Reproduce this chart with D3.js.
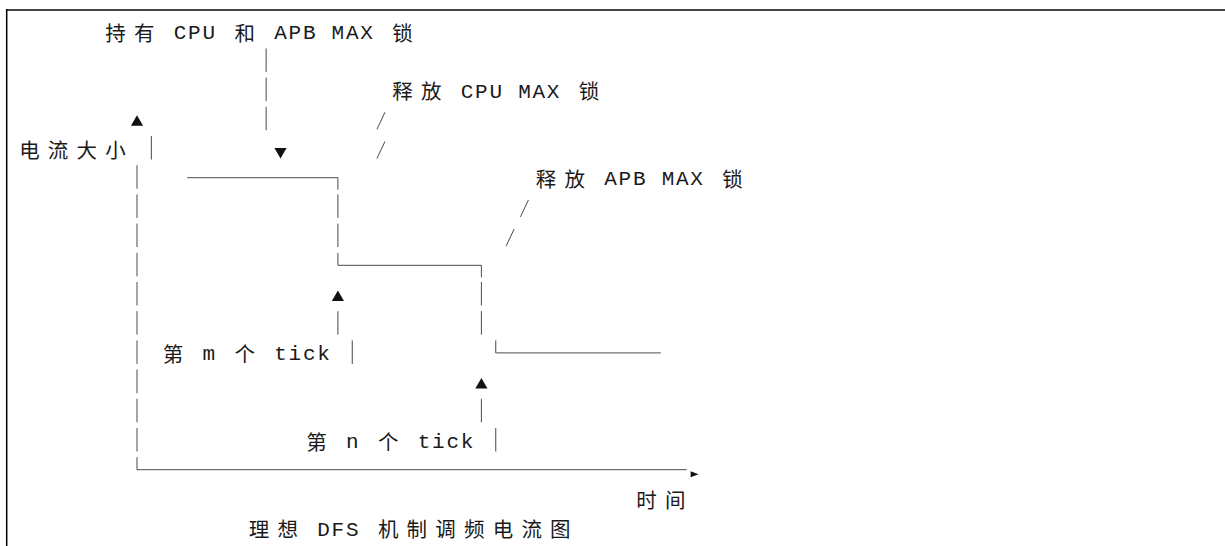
<!DOCTYPE html>
<html>
<head>
<meta charset="utf-8">
<script src="https://cdn.jsdelivr.net/npm/d3@7"></script>
<style>
  body { margin: 0; background: #fff; }
</style>
</head>
<body>
<svg id="dfs" width="1225" height="546"></svg>
<script>
// text cells of the diagram: start column and row on the character grid
const labels = [
  { text: "持有 CPU 和 APB MAX 锁", col: 6, row: 0 },
  { text: "释放 CPU MAX 锁", col: 26, row: 2 },
  { text: "电流大小", col: 0, row: 4 },
  { text: "释放 APB MAX 锁", col: 36, row: 5 },
  { text: "第 m 个 tick", col: 10, row: 11 },
  { text: "第 n 个 tick", col: 20, row: 14 },
  { text: "时间", col: 43, row: 16 },
  { text: "理想 DFS 机制调频电流图", col: 16, row: 17 }
];

// current level steps (row = level, from/to = time in columns)
const steps = [
  { row: 5, from: 11.5, to: 22 },
  { row: 8, from: 22, to: 32 },
  { row: 11, from: 33, to: 44.5 }
];
const timeAxis = { row: 15, from: 8, to: 46.3 };
const axisRows = [5, 6, 7, 8, 9, 10, 11, 12, 13, 14];

// single "|" cells [col, row]
const bars = [
  [17, 1], [17, 2], [17, 3], [9, 4],
  [22, 6], [22, 7], [22, 10],
  [32, 9], [32, 10], [32, 13],
  [23, 11], [33, 14]
];
// box corners: half cells, "down" = from center to bottom, "up" = top to center
const corners = [
  { col: 22, row: 5, dir: "down" },
  { col: 22, row: 8, dir: "up" },
  { col: 32, row: 8, dir: "down" },
  { col: 33, row: 11, dir: "up" },
  { col: 8, row: 15, dir: "up" }
];
const slashes = [[25, 3], [25, 4], [35, 6], [34, 7]];
const arrows = [
  { col: 8, row: 3, dir: "up" },
  { col: 18, row: 4, dir: "down" },
  { col: 22, row: 9, dir: "up" },
  { col: 32, row: 12, dir: "up" }
];

const svg = d3.select("#dfs");
const COL = 14.35, ROW = 29.2;
const x = d3.scaleLinear().domain([0, 1]).range([22.2, 22.2 + COL]);
const y = d3.scaleLinear().domain([0, 1]).range([31.7, 31.7 + ROW]);
const ink = "#4a4a4a";

// frame: top rule and left rule
svg.append("line").attr("x1", 6).attr("x2", 1225).attr("y1", 10).attr("y2", 10)
  .attr("stroke", "#444").attr("stroke-width", 2);
svg.append("line").attr("x1", 6.7).attr("x2", 6.7).attr("y1", 9).attr("y2", 546)
  .attr("stroke", "#000").attr("stroke-width", 1.5);

const lines = svg.append("g").attr("stroke", ink).attr("stroke-width", 1).attr("fill", "none");

const allBars = bars.concat(axisRows.map(r => [8, r]));
lines.selectAll("line.bar")
  .data(allBars)
  .join("line")
  .attr("class", "bar")
  .attr("x1", d => x(d[0])).attr("x2", d => x(d[0]))
  .attr("y1", d => y(d[1]) - 12.5)
  .attr("y2", d => y(d[1]) + 11);

lines.selectAll("line.corner")
  .data(corners)
  .join("line")
  .attr("class", "corner")
  .attr("x1", d => x(d.col)).attr("x2", d => x(d.col))
  .attr("y1", d => y(d.row))
  .attr("y2", d => d.dir === "down" ? y(d.row) + 12 : y(d.row) - 12.5);

lines.selectAll("line.step")
  .data(steps.concat([timeAxis]))
  .join("line")
  .attr("class", "step")
  .attr("x1", d => x(d.from)).attr("x2", d => x(d.to))
  .attr("y1", d => y(d.row)).attr("y2", d => y(d.row));

lines.selectAll("line.slash")
  .data(slashes)
  .join("line")
  .attr("class", "slash")
  .attr("x1", d => x(d[0]) - 4).attr("y1", d => y(d[1]) + 10)
  .attr("x2", d => x(d[0]) + 4).attr("y2", d => y(d[1]) - 7);

const tri = d3.symbol().type(d3.symbolTriangle).size(64);
svg.append("g").selectAll("path")
  .data(arrows)
  .join("path")
  .attr("d", tri)
  .attr("fill", "#111")
  .attr("transform", d => `translate(${x(d.col)},${y(d.row) + 3}) rotate(${d.dir === "down" ? 180 : 0})`);

// small arrow head at the end of the time axis
const ax = x(timeAxis.to), ay = y(timeAxis.row) + 4.5;
svg.append("path")
  .attr("d", `M${ax + 4},${ay - 3}L${ax + 12},${ay}L${ax + 4},${ay + 3}Z`)
  .attr("fill", "#111");

// lay out label characters on the grid, wide (CJK) glyphs take two columns
const isWide = ch => /[\u2e80-\u9fff]/.test(ch);
const glyphs = labels.flatMap(d => {
  let c = d.col;
  return Array.from(d.text).map(ch => {
    const wide = isWide(ch);
    const g = { ch, row: d.row, col: wide ? c + 0.5 : c, wide };
    c += wide ? 2 : 1;
    return g;
  }).filter(g => g.ch !== " ");
});

svg.append("g").selectAll("text")
  .data(glyphs)
  .join("text")
  .attr("x", d => x(d.col))
  .attr("y", d => d.wide ? y(d.row) : y(d.row) + 7.5)
  .attr("text-anchor", "middle")
  .attr("dominant-baseline", d => d.wide ? "central" : "alphabetic")
  .attr("font-family", d => d.wide ? "'Noto Sans CJK SC'" : "'Liberation Mono', monospace")
  .attr("font-size", d => d.wide ? 20.5 : 21)
  .attr("fill", "#1a1a1a")
  .text(d => d.ch);
</script>
</body>
</html>
